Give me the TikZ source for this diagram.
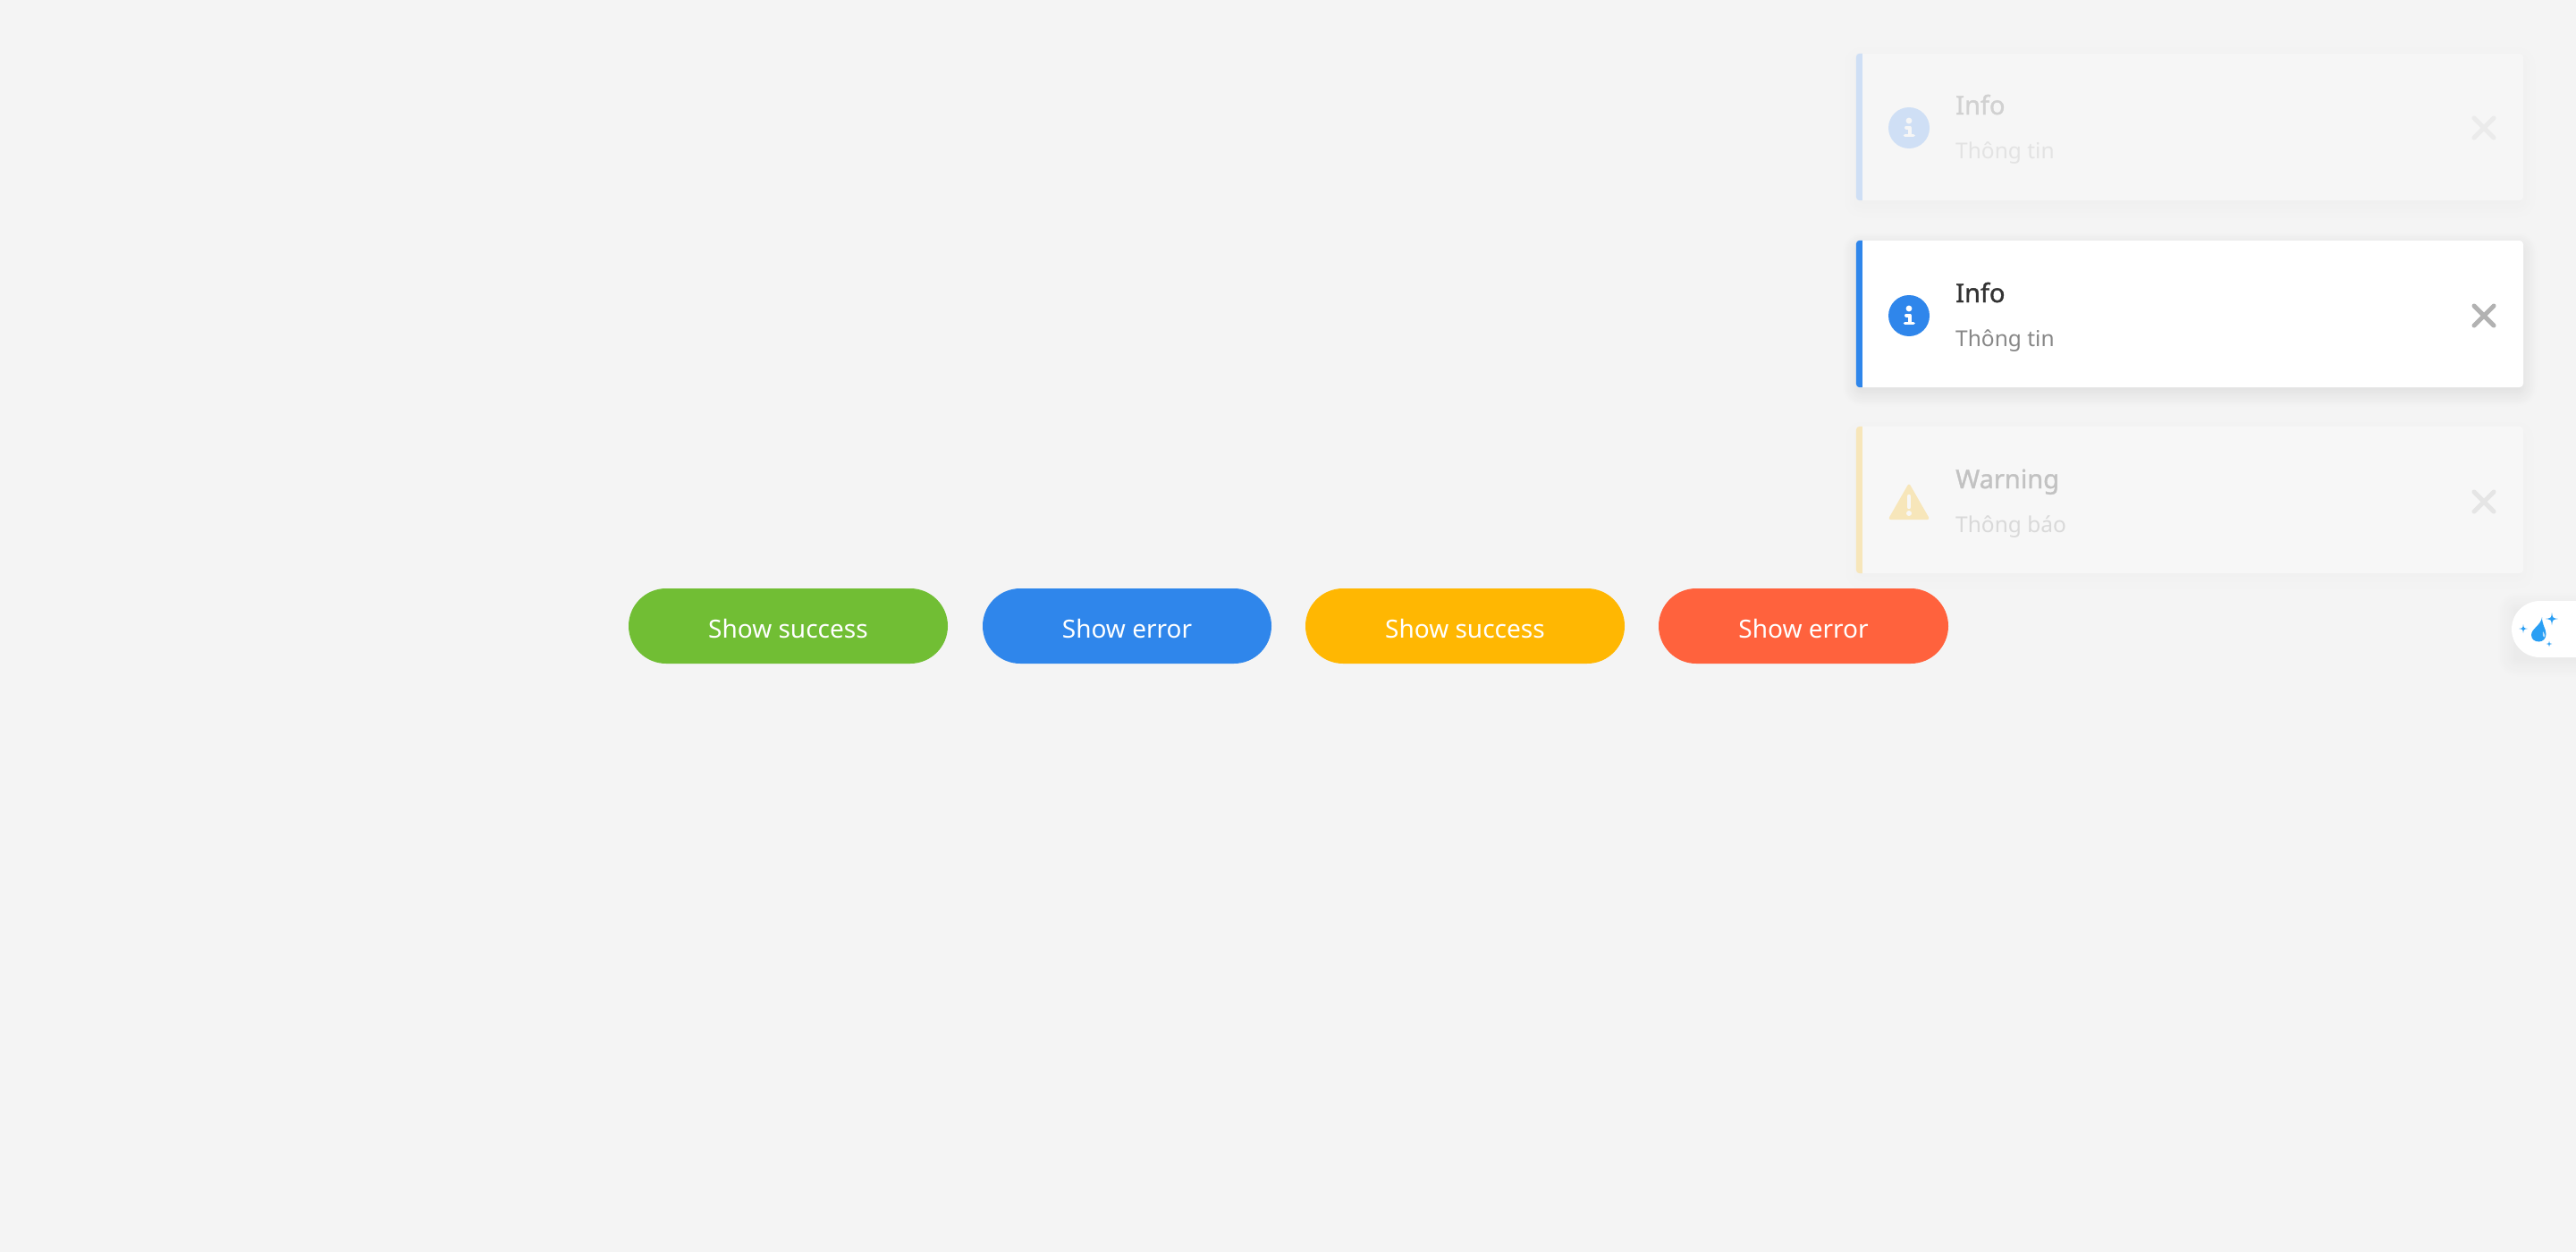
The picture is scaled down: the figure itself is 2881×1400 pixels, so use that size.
\documentclass[tikz,border=0pt]{standalone}
\usepackage{fontspec}
\setmainfont{Noto Sans}
\newfontfamily\titlefont[FakeBold=1.2]{Noto Sans}
\usetikzlibrary{shapes.misc,positioning,calc}
\definecolor{pagebg}{HTML}{F4F4F4}
\definecolor{okgreen}{HTML}{71BE34}
\definecolor{infoblue}{HTML}{2F86EB}
\definecolor{warnyellow}{HTML}{FFB702}
\definecolor{errred}{HTML}{FF623D}
\definecolor{dropblue}{HTML}{2A9FF4}
\definecolor{fadeblue}{HTML}{CFDFF5}
\definecolor{fadeyellow}{HTML}{F7E6BA}
\tikzset{
  btn/.style={rounded rectangle,text=white,minimum height=84pt,inner sep=0pt,text height=26pt,text depth=0pt,font=\fontsize{28}{34}\selectfont},
  card/.style={rectangle,rounded corners=4pt,minimum width=746pt,minimum height=164pt,inner sep=0pt},
  head/.style={anchor=base west,inner sep=0pt,font=\fontsize{29}{34}\titlefont},
  desc/.style={anchor=base west,inner sep=0pt,font=\fontsize{24.5}{30}\selectfont},
  closex/.style={line width=5pt,line cap=round},
  pics/infoicon/.style 2 args={code={
    \fill[#1](0,0)circle(23);
    \fill[#2](0,-8)circle(3.4);
    \draw[#2,line width=4pt,line cap=round,line join=round](-3,-0.5)--(0.5,-0.5)--(0.5,7);
    \draw[#2,line width=3.6pt,line cap=round](-4.5,8.5)--(5,8.5);
  }},
  pics/warnicon/.style 2 args={code={
    \fill[#1,rounded corners=3pt](0,-22)--(23.5,19)--(-23.5,19)--cycle;
    \draw[#2,line width=4.4pt,line cap=round](0,-7)--(0,5);
    \fill[#2](0,12)circle(3);
  }},
  pics/sparkle/.style={code={
    \fill[dropblue](0,-#1).. controls (.12*#1,-.12*#1) .. (#1,0).. controls (.12*#1,.12*#1) .. (0,#1).. controls (-.12*#1,.12*#1) .. (-#1,0).. controls (-.12*#1,-.12*#1) .. (0,-#1)--cycle;
  }}
}
\begin{document}
\begin{tikzpicture}[x=1pt,y=-1pt]
\clip(0,0)rectangle(2881,1400);
\fill[pagebg](0,0)rectangle(2881,1400);
\foreach \xl/\yt/\xr/\yb/\lay in {2076/60/2822/224/1.5,2076/269/2822/433/6.5,2076/477/2822/641/1,2809/672/2950/735/3.5}{
  \foreach \d [evaluate=\d as \k using \lay*(17-\d)/20] in {17,15,...,-3}{\fill[black!\k!pagebg,rounded corners=7pt+\d pt](\xl-\d,\yt+6-\d)rectangle(\xr+\d,\yb+6+\d);}
}
\node[card,fill=white!15!pagebg](cardfirst)at(2449,142){};
\fill[fadeblue]([xshift=7pt]cardfirst.north west)[rounded corners=4pt]--(cardfirst.north west)--(cardfirst.south west)[sharp corners]--([xshift=7pt]cardfirst.south west)--cycle;
\pic at(2135,143){infoicon={fadeblue}{white!15!pagebg}};
\node[head,text=black!18](infofirst)at(2187,128){Info};
\node[desc,text=black!11](textfirst)at(2187,177){Thông tin};
\draw[closex,black!8](2767,132)--(2789,154);\draw[closex,black!8](2789,132)--(2767,154);
\node[card,fill=white](cardsecond)at(2449,351){};
\fill[infoblue]([xshift=7pt]cardsecond.north west)[rounded corners=4pt]--(cardsecond.north west)--(cardsecond.south west)[sharp corners]--([xshift=7pt]cardsecond.south west)--cycle;
\pic at(2135,353){infoicon={infoblue}{white}};
\node[head,text=black!80](infosecond)at(2187,338){Info};
\node[desc,text=black!47](textsecond)at(2187,387){Thông tin};
\draw[closex,black!30](2767,342)--(2789,364);\draw[closex,black!30](2789,342)--(2767,364);
\node[card,fill=white!25!pagebg](cardthird)at(2449,559){};
\fill[fadeyellow]([xshift=7pt]cardthird.north west)[rounded corners=4pt]--(cardthird.north west)--(cardthird.south west)[sharp corners]--([xshift=7pt]cardthird.south west)--cycle;
\pic at(2135,562){warnicon={fadeyellow}{white!25!pagebg}};
\node[head,text=black!24](warnthird)at(2187,546){Warning};
\node[desc,text=black!15](textthird)at(2187,595){Thông báo};
\draw[closex,black!10](2767,550)--(2789,572);\draw[closex,black!10](2789,550)--(2767,572);
\node[btn,fill=okgreen,minimum width=357pt](btnsuccess)at(881.5,700){Show success};
\node[btn,fill=infoblue,minimum width=323pt](btnerror)at(1260.5,700){Show error};
\node[btn,fill=warnyellow,minimum width=357pt](btnwarn)at(1638.5,700){Show success};
\node[btn,fill=errred,minimum width=324pt](btndanger)at(2017,700){Show error};
\node[rounded rectangle,fill=white,minimum width=141pt,minimum height=63pt,inner sep=0pt](widget)at(2879.5,703.5){};
\fill[dropblue](2843,690).. controls (2842,699) and (2831,703) .. (2831,710).. controls (2831,715) and (2835,717.5) .. (2839.5,717.5).. controls (2844,717.5) and (2847.5,714) .. (2847.5,709).. controls (2847.5,703) and (2843,699) .. (2843,690)--cycle;
\fill[white!70!dropblue](2844,706).. controls (2844,709) and (2843,712) .. (2845,712.5).. controls (2847,712) and (2846,709) .. (2844,706)--cycle;
\pic at(2854,692){sparkle=7};
\pic at(2822,703){sparkle=5};
\pic at(2851,720){sparkle=3.2};
\end{tikzpicture}
\end{document}
